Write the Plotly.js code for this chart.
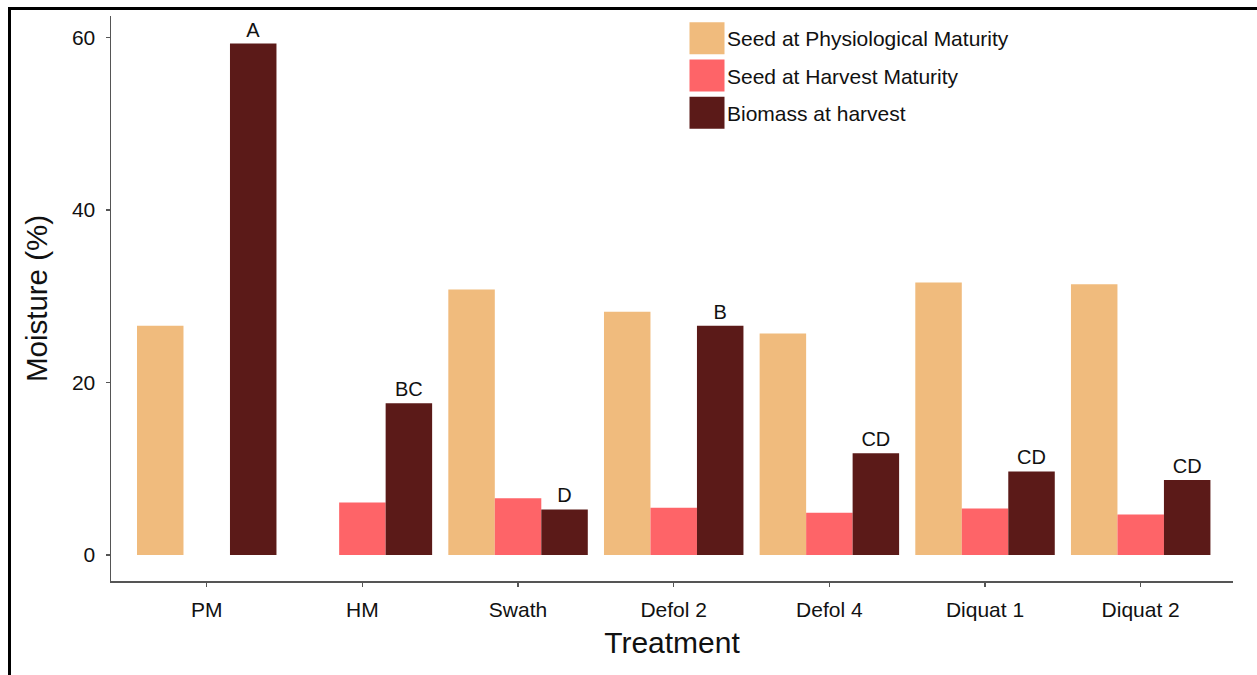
<!DOCTYPE html>
<html>
<head>
<meta charset="utf-8">
<script src="https://cdn.plot.ly/plotly-3.0.1.min.js"></script>
<style>
html,body{margin:0;padding:0;background:#fff;}
#wrap{position:relative;width:1257px;height:675px;}
#chart{width:1257px;height:675px;}
#frame{position:absolute;left:8px;top:7px;right:-10px;bottom:-10px;border-left:3px solid #000;border-top:3px solid #000;pointer-events:none;}
</style>
</head>
<body>
<div id="wrap"><div id="chart"></div><div id="frame"></div></div>
<script>
const treatments = ["PM", "HM", "Swath", "Defol 2", "Defol 4", "Diquat 1", "Diquat 2"];
const seedPM = [26.6, null, 30.8, 28.2, 25.7, 31.6, 31.4];
const seedHM = [null, 6.1, 6.6, 5.5, 4.9, 5.4, 4.7];
const biomass = [59.3, 17.6, 5.3, 26.6, 11.8, 9.7, 8.7];
const letters = ["A", "BC", "D", "B", "CD", "CD", "CD"];
const seriesNames = ["Seed at Physiological Maturity", "Seed at Harvest Maturity", "Biomass at harvest"];
const yTicks = [0, 20, 40, 60];

const FONT = "Liberation Sans, Arial, Helvetica, sans-serif";
const colors = ["#F0BB7D", "#FE6468", "#5B1A18"];

const traces = [
  {type: "bar", name: seriesNames[0], x: treatments, y: seedPM, marker: {color: colors[0]}, legendgroup: "a"},
  {type: "bar", name: seriesNames[1], x: treatments, y: seedHM, marker: {color: colors[1]}, legendgroup: "b"},
  {type: "bar", name: seriesNames[2], x: treatments, y: biomass, marker: {color: colors[2]}, legendgroup: "c",
   text: letters, textposition: "outside", cliponaxis: false,
   textfont: {family: FONT, size: 20, color: "#111"}}
];

const layout = {
  width: 1257, height: 675,
  margin: {l: 111, r: 24, t: 16, b: 94},
  paper_bgcolor: "#fff", plot_bgcolor: "#fff",
  barmode: "group", bargap: 0.104, bargroupgap: 0,
  font: {family: FONT, color: "#111"},
  showlegend: true,
  legend: {
    x: (687 - 111) / 1122, y: (581 - 18) / 565, xanchor: "left", yanchor: "top",
    font: {family: FONT, size: 21, color: "#111"},
    tracegroupgap: 7, bgcolor: "rgba(0,0,0,0)", traceorder: "grouped"
  },
  xaxis: {
    type: "category", range: [-0.615, 6.593],
    showline: true, linecolor: "#555", linewidth: 1.5, mirror: false,
    ticks: "outside", ticklen: 4, tickcolor: "#555", tickwidth: 1.5,
    showgrid: false, zeroline: false,
    tickfont: {family: FONT, size: 21, color: "#111"},
    ticklabelstandoff: 5,
    title: {text: "Treatment", font: {family: FONT, size: 30, color: "#111"}, standoff: 12}
  },
  yaxis: {
    range: [-3, 62.5], tickvals: yTicks, ticktext: yTicks.map(String),
    showline: true, linecolor: "#555", linewidth: 1.5,
    ticks: "outside", ticklen: 4, tickcolor: "#555", tickwidth: 1.5,
    showgrid: false, zeroline: false,
    tickfont: {family: FONT, size: 21, color: "#111"},
    ticklabelstandoff: 6,
    title: {text: "Moisture (%)", font: {family: FONT, size: 29.5, color: "#111"}, standoff: 15}
  }
};

Plotly.newPlot("chart", traces, layout, {displayModeBar: false, staticPlot: true}).then(function (gd) {
  // enlarge legend swatches to match the reference
  document.querySelectorAll(".legendpoints path").forEach(function (p) {
    p.setAttribute("d", "M17.5,16H-17.5V-16H17.5Z");
  });
});
</script>
</body>
</html>
